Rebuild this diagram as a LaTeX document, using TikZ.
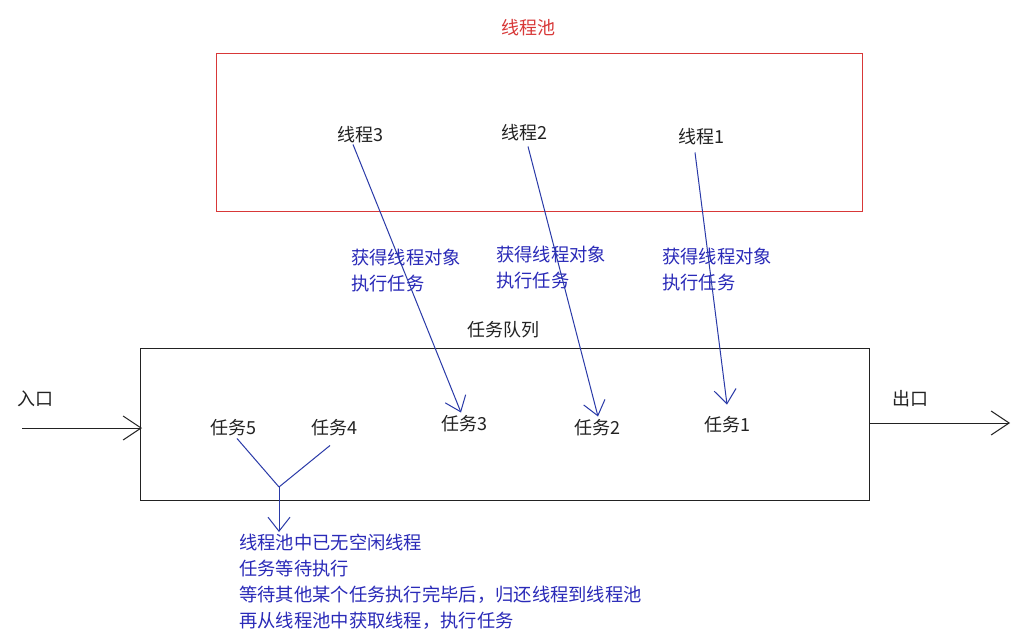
\documentclass[tikz,border=0pt]{standalone}
\usepackage{fontspec}
\setmainfont{Noto Sans CJK SC}
\usetikzlibrary{arrows.meta,calc}
\definecolor{tblue}{HTML}{2A2AB8}
\definecolor{lblue}{HTML}{2A3AA8}
\definecolor{pred}{HTML}{D83838}
\definecolor{ink}{HTML}{222222}
\tikzset{
  lbl/.style={font=\fontsize{18}{26}\selectfont, text=ink, inner sep=0pt},
  blbl/.style={font=\fontsize{18.3}{26}\selectfont, text=tblue, inner sep=0pt, align=left, anchor=north west},
  barrow/.style={draw=lblue, line width=1pt, -{Straight Barb[length=14pt,width=22pt,line width=1pt]}},
  karrow/.style={draw=ink, line width=1pt, -{Straight Barb[length=18pt,width=24pt,line width=1pt]}},
  bline/.style={draw=lblue, line width=1pt},
}
\begin{document}
\begin{tikzpicture}[x=1pt,y=-1pt]
\useasboundingbox[fill=white] (0,0) rectangle (1032,639);
% pool
\node[lbl, text=pred] (pooltitle) at (528,28) {线程池};
\draw[pred, line width=1pt] (216,54) rectangle (862,211);
\node[lbl] (th3) at (360,135) {线程3};
\node[lbl] (th2) at (524,133) {线程2};
\node[lbl] (th1) at (701,137) {线程1};
% labels
\node[blbl] (l3) at (351,249) {获得线程对象\\执行任务};
\node[blbl] (l2) at (496,246) {获得线程对象\\执行任务};
\node[blbl] (l1) at (662,248) {获得线程对象\\执行任务};
% queue
\node[lbl] (qtitle) at (503,330) {任务队列};
\draw[ink, line width=1pt] (140,348) rectangle (869,500);
\node[lbl] (tk5) at (233,428) {任务5};
\node[lbl] (tk4) at (334,428) {任务4};
\node[lbl] (tk3) at (464,424) {任务3};
\node[lbl] (tk2) at (597,428) {任务2};
\node[lbl] (tk1) at (727,425) {任务1};
% thread arrows
\draw[barrow] ($(th3.south)+(-7,1)$) -- ($(tk3.north)+(-3,-3)$);
\draw[barrow] ($(th2.south)+(4,5)$) -- ($(tk2.north)+(1,-3)$);
\draw[barrow] ($(th1.south)+(-6,7)$) -- ($(tk1.north)+(0,-12)$);
% entrance / exit
\node[lbl] (in) at (35,399) {入口};
\node[lbl] (out) at (910,399) {出口};
\coordinate (inS) at (22,428);
\coordinate (inE) at (142,428);
\coordinate (outS) at (869,423);
\coordinate (outE) at (1010,423);
\draw[karrow] (inS) -- (inE);
\draw[karrow] (outS) -- (outE);
% fork
\coordinate (fork) at (279,487);
\draw[bline] ($(tk5.south)+(4,2)$) -- (fork);
\draw[bline] ($(tk4.south)+(-4,9)$) -- (fork);
\node[blbl] (note) at (239,534) {线程池中已无空闲线程\\任务等待执行\\等待其他某个任务执行完毕后，归还线程到线程池\\再从线程池中获取线程，执行任务};
\draw[barrow] (fork) -- ($(note.north -| fork)+(0,-2)$);
\end{tikzpicture}
\end{document}
